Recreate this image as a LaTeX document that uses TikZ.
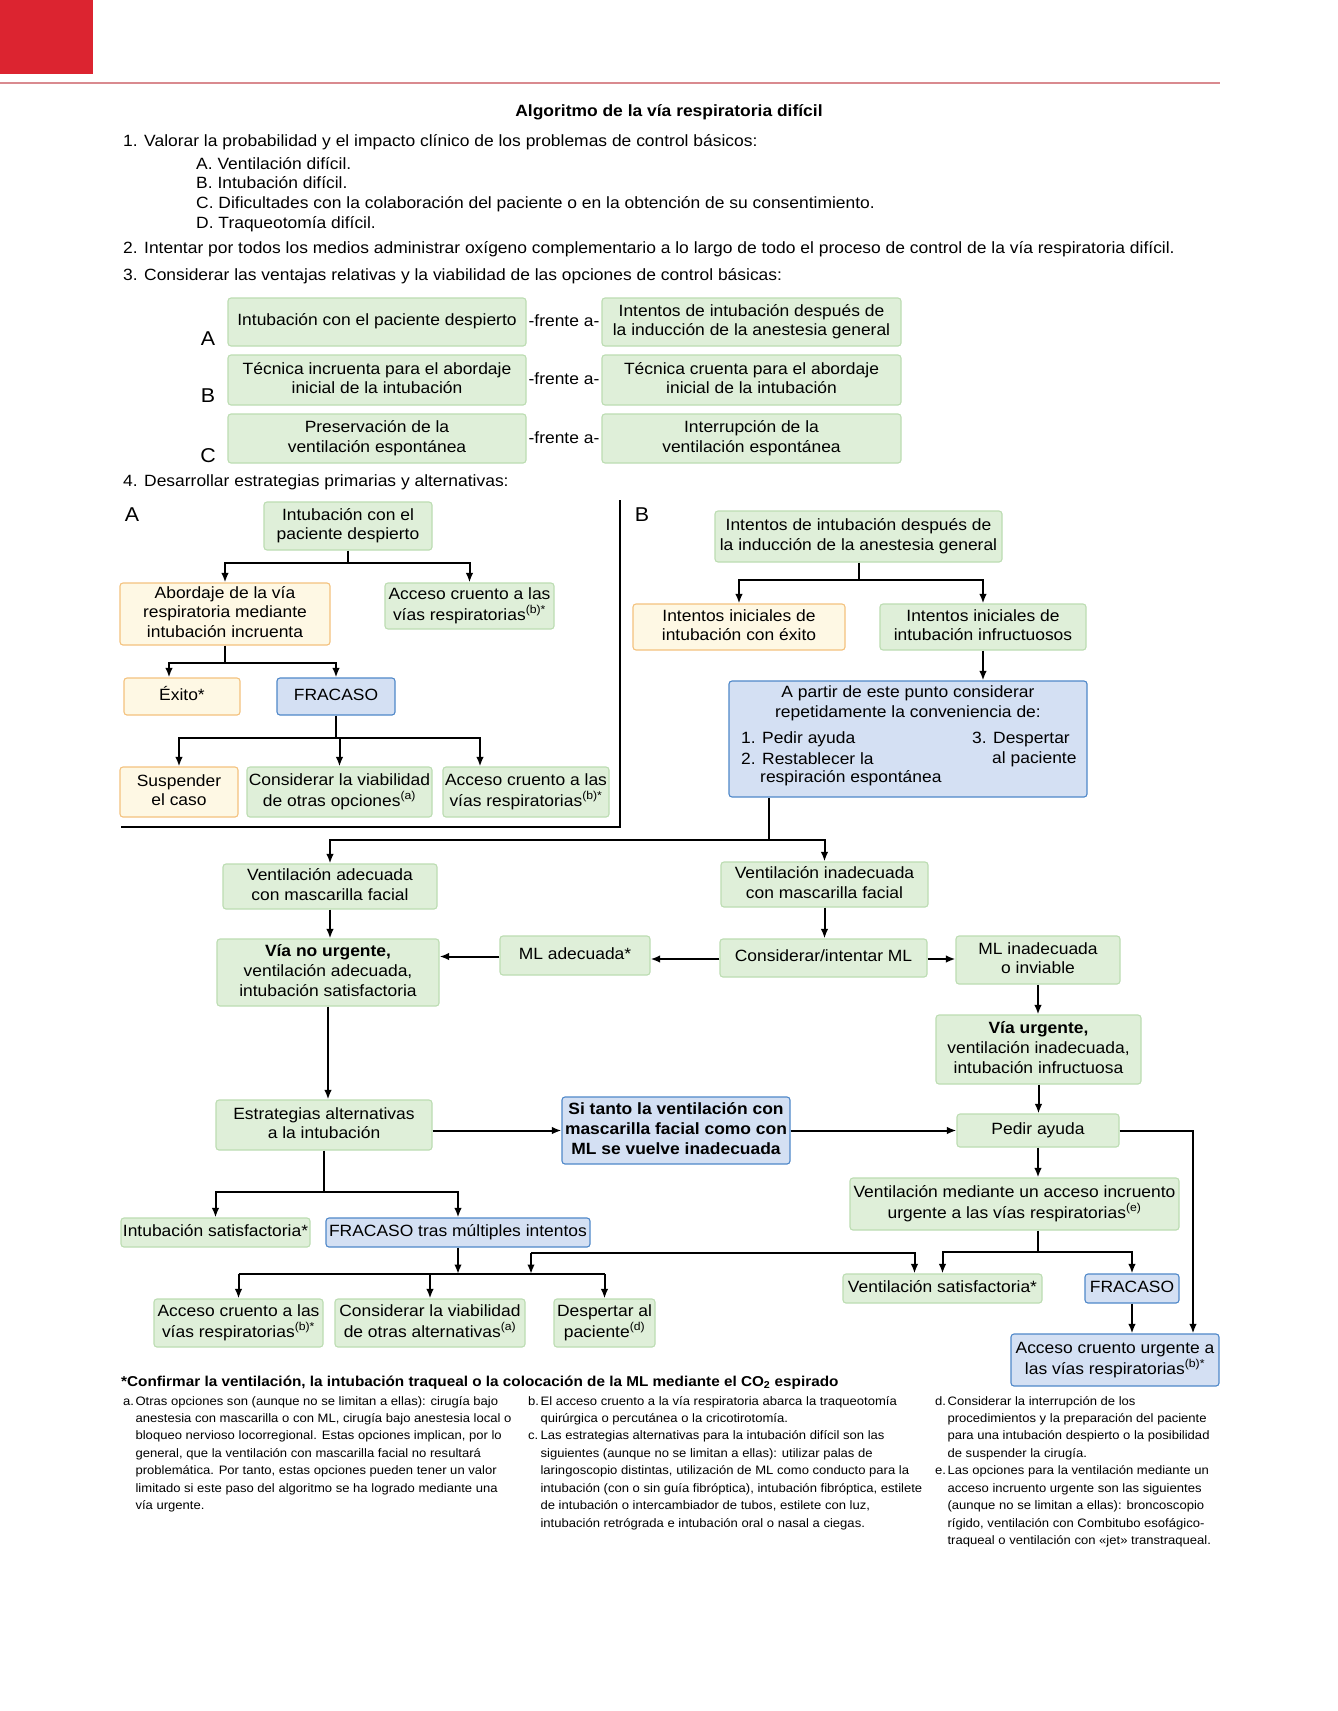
\documentclass[tikz,border=0pt]{standalone}
\usepackage{fontspec}
\setmainfont[FakeStretch=1.07]{Liberation Sans}
\usetikzlibrary{arrows.meta,calc}
\definecolor{gF}{HTML}{DFEFD9}
\definecolor{gB}{HTML}{BCDDB2}
\definecolor{yF}{HTML}{FEF8E4}
\definecolor{yB}{HTML}{F4C27E}
\definecolor{bF}{HTML}{D4E0F3}
\definecolor{bB}{HTML}{4F88C9}
\definecolor{redH}{HTML}{DC2430}
\definecolor{ruleC}{HTML}{D98A8F}
\newcommand\fbx{\fontsize{16.3}{19.6}\selectfont}
\newcommand\fbody{\fontsize{16.3}{19}\selectfont}
\newcommand\fnote{\fontsize{12.2}{17.46}\selectfont}
\newcommand\flab{\fontsize{20}{24}\selectfont}
\newcommand\mlc[1]{\begin{tabular}{@{}c@{}}#1\end{tabular}}
\tikzset{
  basebox/.style={rounded corners=3pt, line width=1.1pt, inner sep=0pt, font=\fbx},
  gbox/.style={basebox, draw=gB, fill=gF},
  ybox/.style={basebox, draw=yB, fill=yF},
  bbox/.style={basebox, draw=bB, fill=bF},
  bxat/.style args={#1/#2/#3/#4}{at={({(#1+#3)/2},{(#2+#4)/2})}, minimum width={(#3-#1)*1pt}, minimum height={(#4-#2)*1pt}},
  conn/.style={line width=2pt, black},
  arr/.style={conn, -{Latex[length=9.5pt,width=7.5pt]}},
  txt/.style={anchor=base west, inner sep=0pt, font=\fbody},
  lab/.style={inner sep=0pt, font=\flab},
}
\begin{document}
\begin{tikzpicture}[x=1pt,y=-1pt]
\useasboundingbox[fill=white] (0,0) rectangle (1338,1711);
% header
\fill[redH] (0,0) rectangle (93,74);
\draw[ruleC, line width=1.5pt] (0,83) -- (1220,83);
\node[anchor=base, inner sep=0pt, font=\fbody\bfseries] (title) at (669,116) {Algoritmo de la vía respiratoria difícil};
\node[txt] (t1) at (123,146) {1. Valorar la probabilidad y el impacto clínico de los problemas de control básicos:};
\node[txt] (t1a) at (196,169) {A. Ventilación difícil.};
\node[txt] (t1b) at (196,188) {B. Intubación difícil.};
\node[txt] (t1c) at (196,208) {C. Dificultades con la colaboración del paciente o en la obtención de su consentimiento.};
\node[txt] (t1d) at (196,228) {D. Traqueotomía difícil.};
\node[txt] (t2) at (123,253) {2. Intentar por todos los medios administrar oxígeno complementario a lo largo de todo el proceso de control de la vía respiratoria difícil.};
\node[txt] (t3) at (123,280) {3. Considerar las ventajas relativas y la viabilidad de las opciones de control básicas:};
% section 3
\node[gbox, bxat=228/298/526/346] (l1) {\mlc{Intubación con el paciente despierto}};
\node[gbox, bxat=602/298/901/346] (r1) {\mlc{Intentos de intubación después de\\la inducción de la anestesia general}};
\node[gbox, bxat=228/355/526/405] (l2) {\mlc{Técnica incruenta para el abordaje\\inicial de la intubación}};
\node[gbox, bxat=602/355/901/405] (r2) {\mlc{Técnica cruenta para el abordaje\\inicial de la intubación}};
\node[gbox, bxat=228/414/526/463] (l3) {\mlc{Preservación de la\\ventilación espontánea}};
\node[gbox, bxat=602/414/901/463] (r3) {\mlc{Interrupción de la\\ventilación espontánea}};
\node[inner sep=0pt, font=\fbody] (fa1) at (564,321) {-frente a-};
\node[inner sep=0pt, font=\fbody] (fa2) at (564,379) {-frente a-};
\node[inner sep=0pt, font=\fbody] (fa3) at (564,438) {-frente a-};
\node[lab] (la) at (208,339) {A};
\node[lab] (lb) at (208,396) {B};
\node[lab] (lc) at (208,456) {C};
\node[txt] (t4) at (123,486) {4. Desarrollar estrategias primarias y alternativas:};
% panel frame
\draw[conn] (620,500) -- (620,827) -- (121,827);
\node[lab] (pA) at (132,515) {A};
\node[lab] (pB) at (642,515) {B};
% panel A
\node[gbox, bxat=264/502/432/550] (aTop) {\mlc{Intubación con el\\paciente despierto}};
\node[ybox, bxat=120/583/330/645] (abord) {\mlc{Abordaje de la vía\\respiratoria mediante\\intubación incruenta}};
\node[gbox, bxat=385/583/554/629] (aCru1) {\mlc{Acceso cruento a las\\vías respiratorias\textsuperscript{(b)*}}};
\node[ybox, bxat=124/678/240/715] (exito) {\mlc{Éxito*}};
\node[bbox, bxat=277/678/395/715] (fracA) {\mlc{FRACASO}};
\node[ybox, bxat=120/767/238/817] (susp) {\mlc{Suspender\\el caso}};
\node[gbox, bxat=247/767/432/817] (consA) {\mlc{Considerar la viabilidad\\de otras opciones\textsuperscript{(a)}}};
\node[gbox, bxat=443/767/609/817] (aCru2) {\mlc{Acceso cruento a las\\vías respiratorias\textsuperscript{(b)*}}};
\draw[conn] (aTop.south) -- ++(0,12) coordinate (jA1);
\draw[arr] (jA1) -| (abord.north);
\draw[arr] (jA1) -| (aCru1.north);
\draw[conn] (abord.south) -- ++(0,17) coordinate (jA2);
\draw[arr] (jA2) -| ([xshift=-13pt]exito.north);
\draw[arr] (jA2) -| (fracA.north);
\draw[conn] (fracA.south) -- ++(0,22) coordinate (jA3);
\draw[arr] (jA3) -| (susp.north);
\draw[arr] (jA3) -| (consA.north);
\draw[arr] (jA3) -| ([xshift=-46pt]aCru2.north);
% panel B
\node[gbox, bxat=715/511/1002/562] (bTop) {\mlc{Intentos de intubación después de\\la inducción de la anestesia general}};
\node[ybox, bxat=633/604/845/650] (bExito) {\mlc{Intentos iniciales de\\intubación con éxito}};
\node[gbox, bxat=880/604/1086/650] (bInf) {\mlc{Intentos iniciales de\\intubación infructuosos}};
\node[bbox, bxat=729/681/1087/797] (partir) {};
\node[inner sep=0pt, font=\fbx] (p1) at (908,693) {A partir de este punto considerar};
\node[inner sep=0pt, font=\fbx] (p2) at (908,713) {repetidamente la conveniencia de:};
\node[inner sep=0pt, anchor=west, font=\fbx] (p3) at (741,739) {1. Pedir ayuda};
\node[inner sep=0pt, anchor=west, font=\fbx] (p4) at (741,759) {2. Restablecer la};
\node[inner sep=0pt, anchor=west, font=\fbx] (p5) at (760,778) {respiración espontánea};
\node[inner sep=0pt, anchor=west, font=\fbx] (p6) at (972,739) {3. Despertar};
\node[inner sep=0pt, anchor=west, font=\fbx] (p7) at (992,759) {al paciente};
\draw[conn] (bTop.south) -- ++(0,17) coordinate (jB1);
\draw[arr] (jB1) -| (bExito.north);
\draw[arr] (jB1) -| (bInf.north);
\draw[arr] (bInf.south) -- (bInf.south |- partir.north);
% main flow
\node[gbox, bxat=223/864/437/909] (ventAd) {\mlc{Ventilación adecuada\\con mascarilla facial}};
\node[gbox, bxat=721/862/928/907] (ventIn) {\mlc{Ventilación inadecuada\\con mascarilla facial}};
\node[gbox, bxat=217/939/439/1006] (noUrg) {\mlc{\textbf{Vía no urgente,}\\ventilación adecuada,\\intubación satisfactoria}};
\node[gbox, bxat=500/936/650/975] (mlAd) {\mlc{ML adecuada*}};
\node[gbox, bxat=720/939/927/977] (consML) {\mlc{Considerar/intentar ML}};
\node[gbox, bxat=956/936/1120/984] (mlIn) {\mlc{ML inadecuada\\o inviable}};
\node[gbox, bxat=936/1015/1141/1084] (urg) {\mlc{\textbf{Vía urgente,}\\ventilación inadecuada,\\intubación infructuosa}};
\node[gbox, bxat=957/1114/1119/1147] (pedir) {\mlc{Pedir ayuda}};
\node[gbox, bxat=216/1100/432/1150] (estr) {\mlc{Estrategias alternativas\\a la intubación}};
\node[bbox, bxat=562/1097/790/1164, font=\fbx\bfseries] (siTanto) {\mlc{Si tanto la ventilación con\\mascarilla facial como con\\ML se vuelve inadecuada}};
\node[gbox, bxat=850/1178/1179/1230] (ventMed) {\mlc{Ventilación mediante un acceso incruento\\urgente a las vías respiratorias\textsuperscript{(e)}}};
\node[gbox, bxat=843/1274/1042/1303] (ventSat) {\mlc{Ventilación satisfactoria*}};
\node[bbox, bxat=1085/1274/1179/1303] (fracB) {\mlc{FRACASO}};
\node[bbox, bxat=1011/1334/1219/1386] (acUrg) {\mlc{Acceso cruento urgente a\\las vías respiratorias\textsuperscript{(b)*}}};
\node[gbox, bxat=121/1218/310/1247] (intSat) {\mlc{Intubación satisfactoria*}};
\node[bbox, bxat=326/1218/590/1247] (fracMult) {\mlc{FRACASO tras múltiples intentos}};
\node[gbox, bxat=154/1299/323/1347] (acCru3) {\mlc{Acceso cruento a las\\vías respiratorias\textsuperscript{(b)*}}};
\node[gbox, bxat=335/1299/525/1347] (consAlt) {\mlc{Considerar la viabilidad\\de otras alternativas\textsuperscript{(a)}}};
\node[gbox, bxat=554/1299/655/1347] (desp) {\mlc{Despertar al\\paciente\textsuperscript{(d)}}};
% main connectors
\draw[conn] ([xshift=-139pt]partir.south) -- ++(0,42) coordinate (jP);
\draw[arr] (jP) -| (ventAd.north);
\draw[arr] (jP) -| (ventIn.north);
\draw[arr] (ventAd.south) -- (ventAd.south |- noUrg.north);
\draw[arr] (ventIn.south) -- (ventIn.south |- consML.north);
\draw[arr] ([yshift=-1pt]consML.west) -- ([yshift=-1pt]consML.west -| mlAd.east);
\draw[arr] ([yshift=-1pt]mlAd.west) -- ([yshift=-1pt]mlAd.west -| noUrg.east);
\draw[arr] ([yshift=-1pt]consML.east) -- ([yshift=-1pt]consML.east -| mlIn.west);
\draw[arr] (mlIn.south) -- (mlIn.south |- urg.north);
\draw[arr] (urg.south) -- (urg.south |- pedir.north);
\draw[arr] (noUrg.south) -- (noUrg.south |- estr.north);
\draw[arr] (siTanto.west -| estr.east) -- (siTanto.west);
\draw[arr] (siTanto.east) -- (siTanto.east -| pedir.west);
\draw[arr] (pedir.east) -| ([xshift=78pt]acUrg.north);
\draw[arr] (pedir.south) -- (pedir.south |- ventMed.north);
\draw[conn] (pedir.south |- ventMed.south) -- ++(0,21) coordinate (jV);
\draw[arr] (jV) -| (ventSat.north);
\draw[arr] (jV) -| (fracB.north);
\draw[arr] (fracB.south) -- (fracB.south |- acUrg.north);
\draw[conn] (estr.south) -- ++(0,41) coordinate (jE);
\draw[arr] (jE) -| (intSat.north);
\draw[arr] (jE) -| (fracMult.north);
\coordinate (dist) at (455,1274);
\draw[arr] (fracMult.south) -- (fracMult.south |- dist);
\draw[conn] (acCru3.north |- dist) -- (desp.north |- dist);
\draw[arr] (acCru3.north |- dist) -- (acCru3.north);
\draw[arr] (consAlt.north |- dist) -- (consAlt.north);
\draw[arr] (desp.north |- dist) -- (desp.north);
\coordinate (cr) at (531,1253);
\draw[arr] (cr) -- (cr |- dist);
\draw[arr] (cr) -| ([xshift=-28pt]ventSat.north);
% footer
\node[anchor=base west, inner sep=0pt, font=\fontsize{14.3}{18}\selectfont\bfseries] (conf) at (121,1386) {*Confirmar la ventilación, la intubación traqueal o la colocación de la ML mediante el CO\textsubscript{2} espirado};
\node[anchor=base west, inner sep=0pt, font=\fnote] (na) at (123,1405) {\begin{tabular}[t]{@{}l@{\hspace{1.5pt}}l@{}}
a. & Otras opciones son (aunque no se limitan a ellas): cirugía bajo\\
 & anestesia con mascarilla o con ML, cirugía bajo anestesia local o\\
 & bloqueo nervioso locorregional. Estas opciones implican, por lo\\
 & general, que la ventilación con mascarilla facial no resultará\\
 & problemática. Por tanto, estas opciones pueden tener un valor\\
 & limitado si este paso del algoritmo se ha logrado mediante una\\
 & vía urgente.
\end{tabular}};
\node[anchor=base west, inner sep=0pt, font=\fnote] (nb) at (528,1405) {\begin{tabular}[t]{@{}l@{\hspace{1.5pt}}l@{}}
b. & El acceso cruento a la vía respiratoria abarca la traqueotomía\\
 & quirúrgica o percutánea o la cricotirotomía.\\
c. & Las estrategias alternativas para la intubación difícil son las\\
 & siguientes (aunque no se limitan a ellas): utilizar palas de\\
 & laringoscopio distintas, utilización de ML como conducto para la\\
 & intubación (con o sin guía fibróptica), intubación fibróptica, estilete\\
 & de intubación o intercambiador de tubos, estilete con luz,\\
 & intubación retrógrada e intubación oral o nasal a ciegas.
\end{tabular}};
\node[anchor=base west, inner sep=0pt, font=\fnote] (nd) at (935,1405) {\begin{tabular}[t]{@{}l@{\hspace{1.5pt}}l@{}}
d. & Considerar la interrupción de los\\
 & procedimientos y la preparación del paciente\\
 & para una intubación despierto o la posibilidad\\
 & de suspender la cirugía.\\
e. & Las opciones para la ventilación mediante un\\
 & acceso incruento urgente son las siguientes\\
 & (aunque no se limitan a ellas): broncoscopio\\
 & rígido, ventilación con Combitubo esofágico-\\
 & traqueal o ventilación con «jet» transtraqueal.
\end{tabular}};
\end{tikzpicture}
\end{document}
